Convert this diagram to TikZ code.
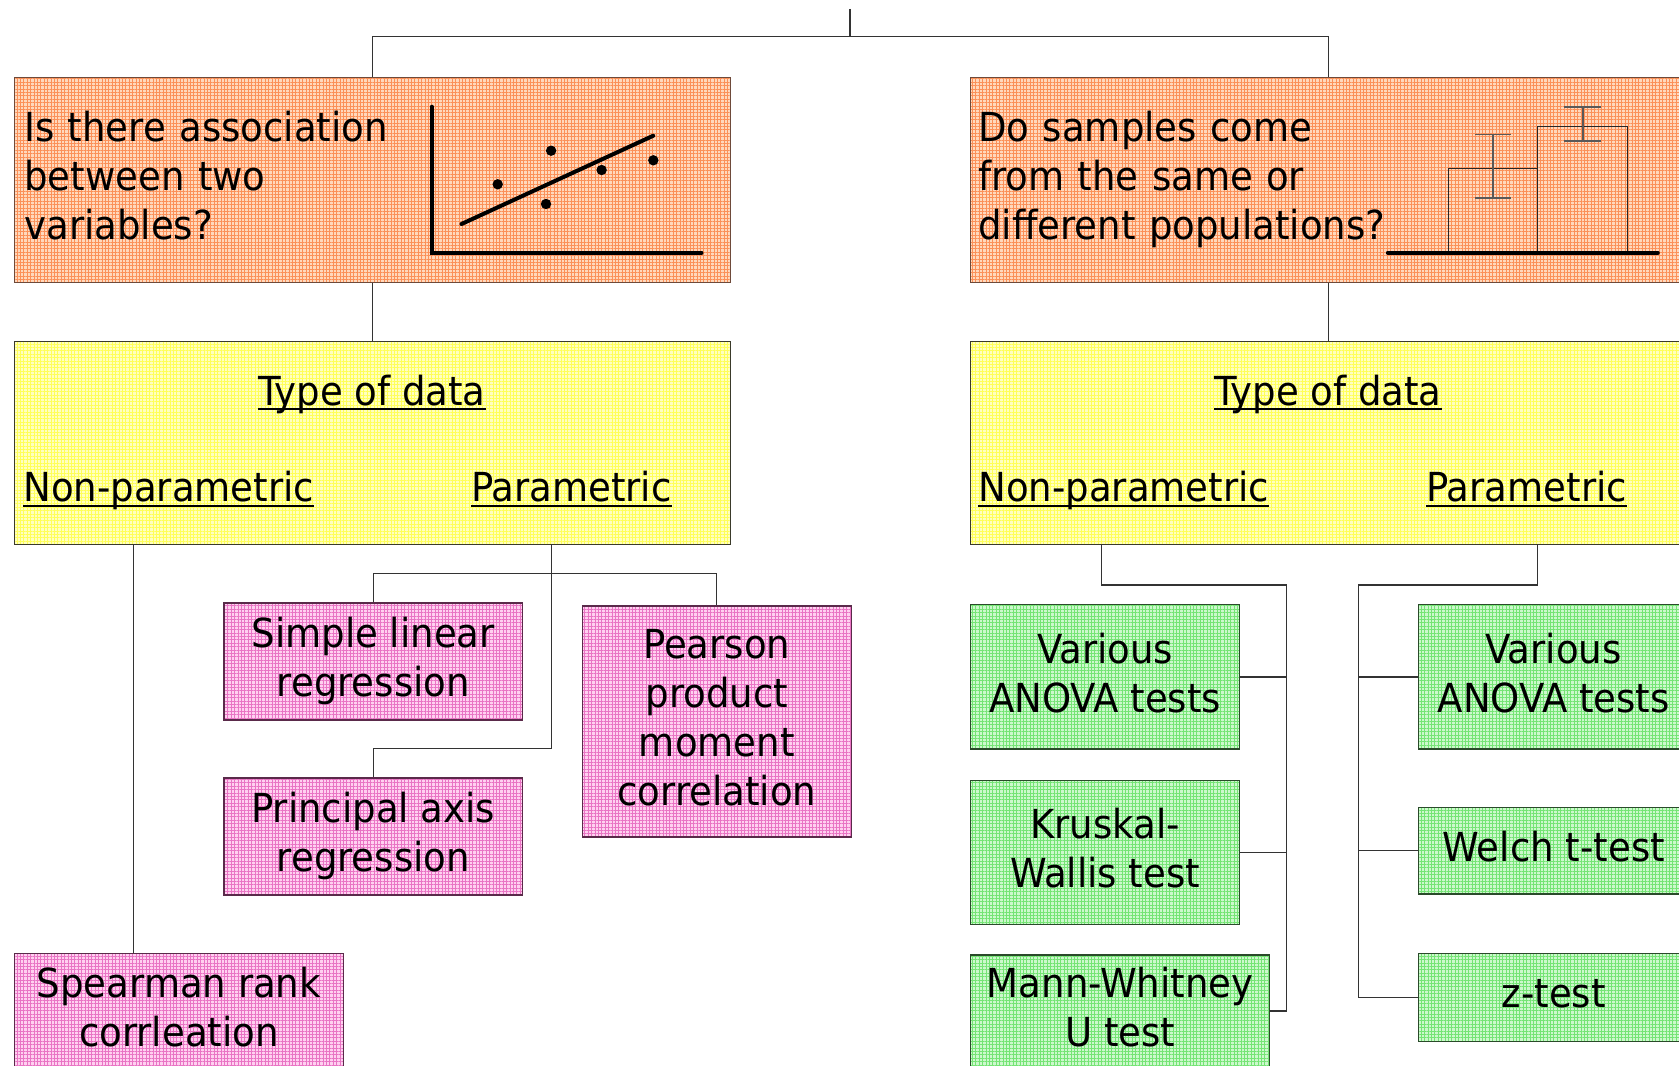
\documentclass[tikz,border=0pt]{standalone}
\usepackage{fontspec}
\setmainfont[FakeStretch=1.03]{DejaVu Sans Condensed}
\usetikzlibrary{patterns.meta}

\definecolor{obg}{HTML}{FFD8BC}\definecolor{oline}{HTML}{FB9058}\definecolor{oedge}{HTML}{6E4A3A}
\definecolor{ybg}{HTML}{FFFFC0}\definecolor{yline}{HTML}{FFFF58}\definecolor{yedge}{HTML}{3A3A2A}
\definecolor{pbg}{HTML}{FFD0F0}\definecolor{pline}{HTML}{E974C4}\definecolor{pedge}{HTML}{5A2A4A}
\definecolor{gbg}{HTML}{CCF8CC}\definecolor{gline}{HTML}{74E474}\definecolor{gedge}{HTML}{2A4A2A}

\newcommand\boxfnt{\fontsize{20}{24.5}\selectfont}
\newcommand\ulx[1]{\setbox0=\hbox{#1}\rlap{\rule[-2.5pt]{\wd0}{1pt}}\box0}

\tikzdeclarepattern{
  name=finegrid,
  type=uncolored,
  bounding box={(-0.85pt,-0.85pt) and (0.85pt,0.85pt)},
  tile size={(1.7pt,1.7pt)},
  code={
    \draw[line width=0.5pt] (-0.85pt,0pt) -- (0.85pt,0pt) (0pt,-0.85pt) -- (0pt,0.85pt);
  }
}

\tikzset{
  box/.style={draw, line width=0.7pt, inner sep=0pt, anchor=north west, align=center, font=\boxfnt, text depth=4.5pt},
  qbox/.style={box, preaction={fill=obg}, pattern=finegrid, pattern color=oline, draw=oedge},
  tbox/.style={box, preaction={fill=ybg}, pattern=finegrid, pattern color=yline, draw=yedge},
  pbox/.style={box, preaction={fill=pbg}, pattern=finegrid, pattern color=pline, draw=pedge},
  gbox/.style={box, preaction={fill=gbg}, pattern=finegrid, pattern color=gline, draw=gedge},
  qtext/.style={anchor=base west, inner sep=0pt, text width=260pt, align=left, font=\boxfnt},
  lbl/.style={inner sep=0pt, font=\boxfnt},
  conn/.style={draw=black!80, line width=0.65pt},
  thick plot/.style={line width=2pt, line cap=round, line join=miter},
  thin plot/.style={line width=0.8pt, draw=black!85},
  err plot/.style={line width=0.8pt, draw=black!65},
}

\begin{document}
\begin{tikzpicture}[x=0.5pt,y=-0.5pt]
\useasboundingbox (0,0) rectangle (1679,1065);
\fill[white] (0,0) rectangle (1679,1065);
\begin{scope}
\clip (0,0) rectangle (1679,1065);

% question boxes
\node[qbox, minimum width=358pt, minimum height=102.5pt] (q1) at (14,77) {};
\node[qbox, minimum width=358pt, minimum height=102.5pt] (q2) at (970,77) {};
\node[qtext] (q1txt) at (24,141.7) {Is there association\\between two\\variables?};
\node[qtext] (q2txt) at (978,141.7) {Do samples come\\from the same or\\different populations?};

% scatter plot
\draw[thick plot] (431.7,106.7) -- (431.7,252.7) -- (701.5,252.7);
\draw[thick plot] (461.5,224) -- (653.3,135.7);
\foreach \px/\py in {497.7/184.3, 551.1/150.7, 546/204, 601.6/170, 653.3/160.3}
  \fill (\px,\py) circle[radius=2.6pt];

% bar chart
\draw[thin plot] (1448.3,252.7) |- (1537.3,168.3) -- (1537.3,252.7);
\draw[thin plot] (1537.3,168.3) |- (1627.3,126.3) -- (1627.3,252.7);
\draw[err plot] (1492.7,134.3) -- (1492.7,197.7)
  (1475,134.3) -- (1510.7,134.3) (1475,197.7) -- (1510.7,197.7);
\draw[err plot] (1582.7,107) -- (1582.7,140.7)
  (1564.3,107) -- (1601,107) (1564.3,140.7) -- (1601,140.7);
\draw[thick plot] (1387.8,252.7) -- (1657.8,252.7);

% type of data boxes
\node[tbox, minimum width=358pt, minimum height=101.75pt] (t1) at (14,340.5) {};
\node[tbox, minimum width=358pt, minimum height=101.75pt] (t2) at (970,340.5) {};
\node[lbl, anchor=base] (t1h) at (372,405) {\ulx{Type of data}};
\node[lbl, anchor=base west] (t1n) at (23,501.7) {\ulx{Non-parametric}};
\node[lbl, anchor=base west] (t1p) at (470.6,501.7) {\ulx{Parametric}};
\node[lbl, anchor=base] (t2h) at (1328,405) {\ulx{Type of data}};
\node[lbl, anchor=base west] (t2n) at (978,501.7) {\ulx{Non-parametric}};
\node[lbl, anchor=base west] (t2p) at (1426,501.7) {\ulx{Parametric}};

% association results
\node[pbox, minimum width=149.25pt, minimum height=58.5pt] (simple) at (223.3,602.4) {Simple linear\\regression};
\node[pbox, minimum width=149.25pt, minimum height=58.5pt] (pax) at (223.3,777.4) {Principal axis\\regression};
\node[pbox, minimum width=134.6pt, minimum height=115.35pt] (pearson) at (581.5,605.4) {Pearson\\product\\moment\\correlation};
\node[pbox, minimum width=164.45pt, minimum height=58.5pt] (spear) at (13.8,952.5) {Spearman rank\\corrleation};

% population results
\node[gbox, minimum width=134.4pt, minimum height=72.2pt] (anova1) at (970,604) {Various\\ANOVA tests};
\node[gbox, minimum width=134.4pt, minimum height=72.2pt] (kw) at (970,779.5) {Kruskal-\\Wallis test};
\node[gbox, minimum width=149.5pt, minimum height=56pt] (mw) at (970,954.2) {Mann-Whitney\\U test};
\node[gbox, minimum width=135.4pt, minimum height=72.2pt] (anova2) at (1417.6,604) {Various\\ANOVA tests};
\node[gbox, minimum width=135.4pt, minimum height=43.15pt] (welch) at (1417.6,806.8) {Welch t-test};
\node[gbox, minimum width=135.4pt, minimum height=43.85pt] (zt) at (1417.6,952.9) {z-test};

% connectors
\coordinate (root) at (850,9);
\coordinate (split) at (850,36.5);
\draw[conn] (root) -- (split);
\draw[conn] (q1.north) |- (split) -| (q2.north);
\draw[conn] (q1.south) -- (t1.north);
\draw[conn] (q2.south) -- (t2.north);

\coordinate (np1) at (133.8,544);
\draw[conn] (np1) -- (np1 |- spear.north);
\coordinate (p1) at (551.7,544);
\coordinate (phub) at (551.7,573.3);
\coordinate (pbend) at (551.7,748.4);
\draw[conn] (simple.north) |- (phub) -| (pearson.north);
\draw[conn] (p1) -- (pbend) -| (pax.north);

\coordinate (np2) at (1101.2,544);
\coordinate (npbus) at (1286.5,585);
\draw[conn] (np2) |- (npbus) |- (mw.east);
\draw[conn] (anova1.east) -- (anova1.east -| npbus);
\draw[conn] (kw.east) -- (kw.east -| npbus);

\coordinate (p2) at (1537.3,544);
\coordinate (pbus) at (1358.4,585);
\draw[conn] (p2) |- (pbus) |- (zt.west);
\draw[conn] (anova2.west) -- (anova2.west -| pbus);
\draw[conn] (welch.west) -- (welch.west -| pbus);
\end{scope}
\end{tikzpicture}
\end{document}
